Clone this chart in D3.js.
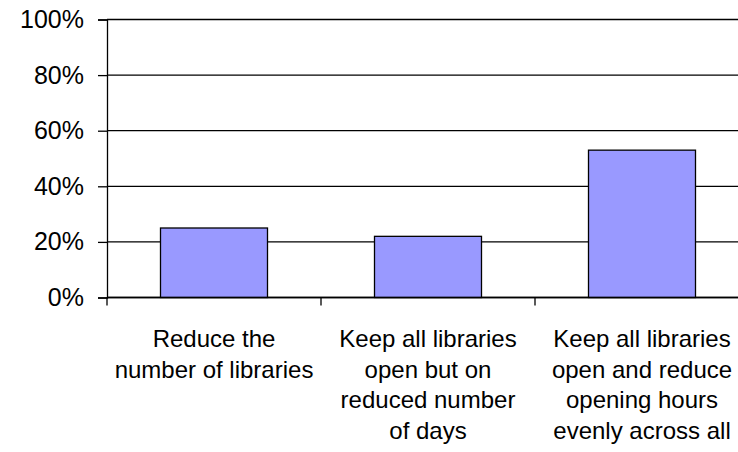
<!DOCTYPE html>
<html>
<head>
<meta charset="utf-8">
<script src="https://cdn.jsdelivr.net/npm/d3@7"></script>
<style>
  body { margin: 0; background: #fff; }
  text { font-family: "Liberation Sans", Arial, sans-serif; }
</style>
</head>
<body>
<div id="barChart"></div>
<script>
// data
var categories = [
  "Reduce the number of libraries",
  "Keep all libraries open but on reduced number of days",
  "Keep all libraries open and reduce opening hours evenly across all"
];
var labelLines = [
  ["Reduce the", "number of libraries"],
  ["Keep all libraries", "open but on", "reduced number", "of days"],
  ["Keep all libraries", "open and reduce", "opening hours", "evenly across all"]
];
var values = [0.25, 0.22, 0.53];
var yTicks = [0, 0.2, 0.4, 0.6, 0.8, 1.0];

var width = 738, height = 452;
var plotLeft = 107, plotRight = 749, plotTop = 19.5, plotBottom = 297.5;

var svg = d3.select("#barChart")
  .append("svg")
  .attr("width", width)
  .attr("height", height);

var x0 = d3.scaleBand()
  .domain(categories)
  .range([plotLeft, plotRight])
  .padding(0);

var y = d3.scaleLinear()
  .domain([0, 1])
  .range([plotBottom, plotTop]);

// gridlines
svg.append("g")
  .selectAll("line")
  .data(yTicks)
  .enter().append("line")
    .attr("x1", plotLeft)
    .attr("x2", plotRight)
    .attr("y1", function(d) { return y(d); })
    .attr("y2", function(d) { return y(d); })
    .attr("stroke", "#000")
    .attr("stroke-width", 1.3);

// bars
svg.append("g")
  .selectAll("rect")
  .data(values)
  .enter().append("rect")
    .attr("x", function(d, i) { return x0(categories[i]) + x0.bandwidth() * 0.25; })
    .attr("y", function(d) { return y(d); })
    .attr("width", x0.bandwidth() * 0.5)
    .attr("height", function(d) { return plotBottom - y(d); })
    .attr("fill", "#9999ff")
    .attr("stroke", "#000")
    .attr("stroke-width", 1.3);

// y axis
var yAxis = svg.append("g")
  .attr("transform", "translate(" + plotLeft + ",0)")
  .call(d3.axisLeft(y).tickValues(yTicks).tickFormat(d3.format(".0%")).tickSize(9).tickPadding(14));
yAxis.select(".domain").attr("stroke", "#000").attr("stroke-width", 1.3);
yAxis.selectAll(".tick line").attr("stroke", "#000").attr("stroke-width", 1.3);
yAxis.selectAll(".tick text")
  .attr("font-family", "Liberation Sans, Arial, sans-serif")
  .attr("font-size", 25)
  .attr("fill", "#000");

// x axis baseline + category ticks at band edges
svg.append("line")
  .attr("x1", plotLeft).attr("x2", plotRight)
  .attr("y1", plotBottom).attr("y2", plotBottom)
  .attr("stroke", "#000").attr("stroke-width", 1.3);

var edges = categories.map(function(c) { return x0(c); }).concat([plotRight]);
svg.append("g")
  .selectAll("line")
  .data(edges)
  .enter().append("line")
    .attr("x1", function(d) { return d; })
    .attr("x2", function(d) { return d; })
    .attr("y1", plotBottom)
    .attr("y2", plotBottom + 8)
    .attr("stroke", "#000")
    .attr("stroke-width", 1.3);

// category labels
svg.append("g")
  .selectAll("text")
  .data(categories)
  .enter().append("text")
    .attr("text-anchor", "middle")
    .attr("font-size", 24)
    .attr("fill", "#000")
    .attr("transform", function(d) { return "translate(" + (x0(d) + x0.bandwidth() / 2) + ",347)"; })
  .selectAll("tspan")
  .data(function(d, i) { return labelLines[i]; })
  .enter().append("tspan")
    .attr("x", 0)
    .attr("y", function(d, i) { return i * 30.5; })
    .text(function(d) { return d; });
</script>
</body>
</html>
